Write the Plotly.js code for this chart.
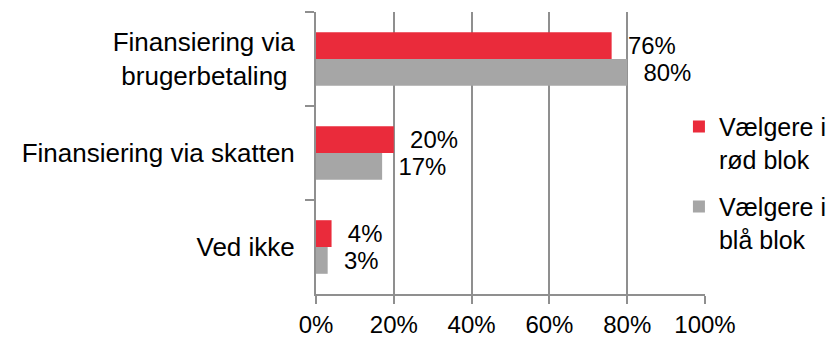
<!DOCTYPE html>
<html>
<head>
<meta charset="utf-8">
<script src="https://cdn.plot.ly/plotly-3.0.1.min.js"></script>
<style>html,body{margin:0;padding:0;background:#fff;}#chart{width:837px;height:338px;}</style>
</head>
<body>
<div id="chart"></div>
<script>
const categories = ["Finansiering via<br>brugerbetaling\u00a0", "Finansiering via skatten", "Ved ikke"];
const seriesNames = ["Vælgere i<br>rød blok", "Vælgere i<br>blå blok"];
const redValues = [76, 20, 4];
const blueValues = [80, 17, 3];
const xTickVals = [0, 20, 40, 60, 80, 100];
const xTickText = ["0%", "20%", "40%", "60%", "80%", "100%"];

const FONT = "Liberation Sans, Arial, sans-serif";
const labelFont = {family: FONT, size: 25, color: "#000"};

const traces = [
  {type: "bar", orientation: "h", name: seriesNames[0], legendgroup: "r", y: categories, x: redValues,
   text: redValues, marker: {color: "#EA2B3B"}, texttemplate: "\u00a0\u00a0%{text}%", textposition: "outside",
   textfont: labelFont, cliponaxis: false, hoverinfo: "skip"},
  {type: "bar", orientation: "h", name: seriesNames[1], legendgroup: "b", y: categories, x: blueValues,
   text: blueValues, marker: {color: "#A6A6A6"}, texttemplate: "\u00a0\u00a0%{text}%", textposition: "outside",
   textfont: labelFont, cliponaxis: false, hoverinfo: "skip"}
];

const layout = {
  width: 837, height: 338,
  margin: {l: 316, r: 132, t: 12, b: 44, autoexpand: false},
  paper_bgcolor: "#fff", plot_bgcolor: "#fff",
  barmode: "group", bargap: 0.43, bargroupgap: 0,
  font: {family: FONT, size: 25, color: "#000"},
  xaxis: {range: [0, 100], tickvals: xTickVals, ticktext: xTickText,
    showgrid: true, gridcolor: "#8F8F8F", gridwidth: 2,
    showline: true, linecolor: "#8F8F8F", linewidth: 2,
    ticks: "outside", ticklen: 8, tickwidth: 2, tickcolor: "#8F8F8F",
    zeroline: false, tickfont: {family: FONT, size: 24, color: "#000"}, fixedrange: true},
  yaxis: {autorange: "reversed", type: "category",
    showline: true, linecolor: "#8F8F8F", linewidth: 2,
    ticks: "outside", tickson: "boundaries", ticklen: 9, tickwidth: 2, tickcolor: "#8F8F8F",
    showgrid: false, zeroline: false, ticklabelstandoff: 14,
    tickfont: {family: FONT, size: 26, color: "#000"}, fixedrange: true},
  showlegend: true,
  legend: {x: 0.933, xanchor: "left", y: 0.675, yanchor: "top", valign: "top",
    font: {family: FONT, size: 25, color: "#000"}, bgcolor: "rgba(0,0,0,0)",
    tracegroupgap: 12, traceorder: "grouped"}
};

Plotly.newPlot("chart", traces, layout, {staticPlot: true, displayModeBar: false});
</script>
</body>
</html>
